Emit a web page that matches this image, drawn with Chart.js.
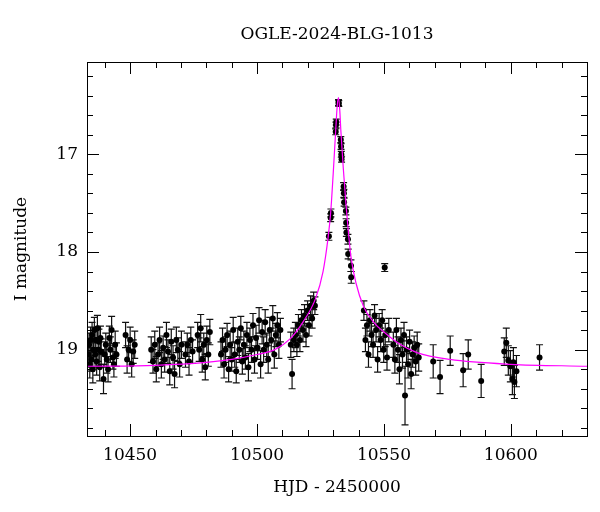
<!DOCTYPE html>
<html>
<head>
<meta charset="utf-8">
<script src="https://cdn.jsdelivr.net/npm/chart.js@4/dist/chart.umd.min.js"></script>
<style>
  body { margin: 0; background: #fff; }
  #wrap { width: 600px; height: 512px; }
</style>
</head>
<body>
<div id="wrap"><canvas id="lc"></canvas></div>
<script>
// light curve points
const hjd = [
  10433.5,10433.8,10434.1,10434.4,10434.7,10435.0,10435.3,10435.6,10435.9,10436.2,10436.5,10436.8,10437.1,10437.4,10437.7,10438.0,10438.3,10438.6,
  10439.5,10440.0,10440.4,10440.8,10441.3,10441.8,10442.2,10442.7,10443.2,10443.6,10444.1,10444.6,
  10448.2,10448.8,10449.4,10450.0,10450.6,10451.2,10451.8,
  10458.3,10459.0,10459.7,10460.3,10461.0,10461.6,10462.3,10463.0,10463.6,10464.3,10464.9,10465.6,10466.2,10466.9,10467.5,10468.2,10468.8,10469.5,10470.2,
  10471.8,10472.5,10473.2,10473.9,10474.6,
  10476.6,10477.2,10477.8,10478.4,10479.0,10479.6,10480.2,10480.8,10481.4,
  10485.8,10486.4,10487.0,10487.6,10488.2,10488.8,10489.4,10490.0,10490.6,10491.2,10491.8,10492.4,10493.0,10493.6,10494.2,10494.8,10495.4,10496.0,10496.6,10497.2,
  10497.8,10498.4,10499.0,10499.6,10500.2,10500.8,10501.4,10502.0,10502.6,10503.2,10503.8,10504.4,10505.0,10505.6,10506.2,10506.8,10507.4,10508.0,10508.6,10509.2,
  10513.3,10513.8,10514.5,10515.1,10515.7,10516.3,10516.9,10517.5,10518.1,10518.7,10519.3,10519.9,10520.5,10521.1,10521.7,10522.3,10522.8,
  10528.3,10529.0,10529.1,10531.0,10531.1,10531.2,10532.1,10532.2,10533.0,10533.1,10533.2,10533.3,10534.1,10534.2,10534.3,10535.0,10535.1,10535.2,10535.8,10535.9,10537.0,10537.1,
  10542.1,10542.7,10543.3,10543.9,10544.5,10545.1,10545.7,10546.3,10546.9,10547.5,10548.1,10548.7,10549.3,10549.9,10550.5,10551.2,10551.9,
  10550.3,
  10553.7,10554.3,10554.9,10555.5,10556.1,10556.7,10557.3,10557.9,10558.3,10558.9,10559.5,10560.1,10560.7,10561.3,10561.9,10562.5,10563.1,10563.7,
  10569.4,10572.1,10576.1,10581.2,10583.2,10588.3,10597.4,10598.2,10599.0,10599.8,10600.6,10601.0,10601.4,10602.2,10611.3
];
const mag = [
  19.05,18.95,19.15,18.90,19.10,18.85,19.20,19.00,18.80,19.05,18.90,19.12,18.78,19.00,18.92,19.18,18.88,19.02,
  19.30,19.05,18.95,19.10,19.20,18.88,19.00,18.80,19.08,19.15,18.95,19.05,
  18.85,19.10,19.00,18.90,19.15,19.02,18.95,
  19.00,19.12,18.95,19.20,19.05,18.90,19.15,18.98,19.10,18.85,19.02,19.22,18.92,19.08,19.25,18.90,19.00,19.15,18.95,
  19.05,18.95,19.12,18.90,19.02,
  18.85,19.00,18.78,19.10,18.95,19.18,18.90,19.05,18.82,
  19.05,18.90,19.15,19.00,18.85,19.20,18.95,19.10,18.80,19.05,19.22,18.92,19.00,18.78,19.12,18.95,19.08,18.85,19.18,18.90,
  19.00,18.75,19.10,18.88,18.98,18.70,19.15,18.82,19.00,18.72,18.95,19.10,18.80,18.90,18.68,19.05,18.85,18.75,18.95,18.80,
  18.95,19.25,18.90,18.85,18.95,18.75,18.90,18.70,18.80,18.65,18.85,18.60,18.75,18.55,18.68,18.50,18.55,
  17.84,17.65,17.60,16.77,16.70,16.67,16.47,16.48,16.85,16.92,17.00,17.05,17.33,17.40,17.49,17.58,17.70,17.80,17.87,18.02,18.14,18.26,
  18.60,18.90,18.75,19.05,18.70,18.85,18.95,18.65,18.80,19.10,18.75,18.90,18.70,19.00,18.85,19.08,18.80,
  18.16,
  18.95,19.10,18.80,19.00,19.20,18.90,19.05,18.85,19.47,19.00,19.15,18.92,19.25,19.05,18.98,19.12,18.95,19.08,
  19.12,19.28,19.01,19.21,19.05,19.32,19.02,18.93,19.11,19.17,19.30,19.13,19.33,19.22,19.08
];
const magErr = [
  0.13,0.12,0.14,0.13,0.12,0.13,0.14,0.12,0.13,0.13,0.12,0.14,0.13,0.12,0.13,0.14,0.12,0.13,
  0.15,0.13,0.12,0.14,0.13,0.12,0.13,0.14,0.12,0.13,0.14,0.12,
  0.13,0.14,0.12,0.13,0.13,0.12,0.14,
  0.13,0.12,0.14,0.13,0.12,0.13,0.14,0.12,0.13,0.13,0.12,0.14,0.13,0.12,0.14,0.13,0.12,0.13,0.14,
  0.13,0.12,0.14,0.13,0.12,
  0.13,0.12,0.14,0.13,0.12,0.13,0.14,0.12,0.13,
  0.13,0.12,0.14,0.13,0.12,0.13,0.14,0.12,0.13,0.13,0.12,0.14,0.13,0.12,0.13,0.14,0.12,0.13,0.14,0.12,
  0.13,0.12,0.14,0.13,0.12,0.13,0.14,0.12,0.13,0.13,0.12,0.14,0.13,0.12,0.13,0.14,0.12,0.13,0.14,0.12,
  0.13,0.15,0.12,0.13,0.12,0.11,0.12,0.11,0.12,0.11,0.12,0.10,0.11,0.10,0.10,0.09,0.09,
  0.04,0.04,0.04,0.03,0.03,0.03,0.03,0.03,0.03,0.03,0.03,0.03,0.04,0.04,0.04,0.04,0.04,0.04,0.05,0.05,0.06,0.06,
  0.10,0.12,0.11,0.13,0.11,0.12,0.13,0.11,0.12,0.13,0.12,0.12,0.11,0.13,0.12,0.13,0.12,
  0.04,
  0.13,0.14,0.12,0.13,0.15,0.12,0.14,0.13,0.30,0.13,0.14,0.12,0.15,0.13,0.12,0.14,0.13,0.14,
  0.17,0.17,0.15,0.17,0.15,0.17,0.14,0.15,0.15,0.16,0.16,0.15,0.17,0.16,0.13
];

// model curve
const modelT = [10433,10460,10480,10490,10500,10507,10513,10518,10523,10526,10528,10529,10530,10531,10531.6,10532.1,10532.6,10533,10534,10535,10536,10537,10539,10542,10546,10550,10556,10563,10576,10600,10630];
const modelMag = [19.17,19.16,19.13,19.10,19.05,19.00,18.89,18.72,18.48,18.20,17.85,17.60,17.20,16.75,16.50,16.42,16.55,16.75,17.15,17.50,17.80,18.05,18.32,18.56,18.72,18.82,18.94,19.03,19.10,19.15,19.17];

const xMajor = [10450, 10500, 10550, 10600];
const yMajor = [17, 18, 19];

const FONT = '"DejaVu Serif", "Liberation Serif", serif';

// frame, ticks on all sides, labels
const framePlugin = {
  id: 'frame',
  beforeDatasetsDraw(chart) {
    // error bars
    const ctx = chart.ctx, x = chart.scales.x, y = chart.scales.y;
    const a = chart.chartArea;
    ctx.save();
    ctx.beginPath();
    ctx.rect(a.left, a.top, a.right - a.left, a.bottom - a.top);
    ctx.clip();
    ctx.strokeStyle = '#111';
    ctx.lineWidth = 1.2;
    for (let i = 0; i < hjd.length; i++) {
      const px = x.getPixelForValue(hjd[i]);
      const y1 = y.getPixelForValue(mag[i] - magErr[i]);
      const y2 = y.getPixelForValue(mag[i] + magErr[i]);
      ctx.beginPath();
      ctx.moveTo(px, y1); ctx.lineTo(px, y2);
      ctx.moveTo(px - 3.5, y1); ctx.lineTo(px + 3.5, y1);
      ctx.moveTo(px - 3.5, y2); ctx.lineTo(px + 3.5, y2);
      ctx.stroke();
    }
    ctx.restore();
  },
  afterDraw(chart) {
    const ctx = chart.ctx, x = chart.scales.x, y = chart.scales.y;
    const a = chart.chartArea;
    ctx.save();
    ctx.strokeStyle = '#000';
    ctx.lineWidth = 1;
    ctx.strokeRect(a.left + 0.5, a.top + 0.5, a.right - a.left, a.bottom - a.top);
    ctx.beginPath();
    for (let v = 10440; v <= 10630; v += 10) {
      const px = Math.round(x.getPixelForValue(v)) + 0.5;
      const len = (v % 50 === 0) ? 12 : 6;
      ctx.moveTo(px, a.bottom); ctx.lineTo(px, a.bottom - len);
      ctx.moveTo(px, a.top); ctx.lineTo(px, a.top + len);
    }
    for (let k = 161; k <= 198; k++) {
      const v = k / 10;
      if (k % 2) continue;
      const py = Math.round(y.getPixelForValue(v)) + 0.5;
      const len = (k % 10 === 0) ? 12 : 6;
      ctx.moveTo(a.left, py); ctx.lineTo(a.left + len, py);
      ctx.moveTo(a.right, py); ctx.lineTo(a.right - len, py);
    }
    ctx.stroke();

    ctx.fillStyle = '#000';
    ctx.font = '17px ' + FONT;
    ctx.textAlign = 'center';
    ctx.textBaseline = 'middle';
    xMajor.forEach(v => ctx.fillText(String(v), x.getPixelForValue(v), 456));
    ctx.textAlign = 'right';
    yMajor.forEach(v => ctx.fillText(String(v), 78, y.getPixelForValue(v)));

    ctx.textAlign = 'center';
    ctx.fillText('HJD - 2450000', 337, 488);
    ctx.fillText('OGLE-2024-BLG-1013', 337, 35);
    ctx.translate(22, 249);
    ctx.rotate(-Math.PI / 2);
    ctx.fillText('I magnitude', 0, 0);
    ctx.restore();
  }
};

const points = hjd.map((t, i) => ({ x: t, y: mag[i] }));
const model = modelT.map((t, i) => ({ x: t, y: modelMag[i] }));

new Chart(document.getElementById('lc'), {
  type: 'scatter',
  data: {
    datasets: [
      {
        data: points,
        pointRadius: 3,
        pointBackgroundColor: '#000',
        pointBorderWidth: 0,
        order: 2
      },
      {
        data: model,
        showLine: true,
        pointRadius: 0,
        borderColor: '#ff00ff',
        borderWidth: 1.2,
        cubicInterpolationMode: 'monotone',
        order: 1
      }
    ]
  },
  options: {
    responsive: true,
    maintainAspectRatio: false,
    animation: false,
    layout: { padding: { left: 87, right: 13, top: 62, bottom: 76 } },
    plugins: { legend: { display: false }, tooltip: { enabled: false } },
    scales: {
      x: { type: 'linear', min: 10433, max: 10630, display: false },
      y: { type: 'linear', min: 16.055, max: 19.884, reverse: true, display: false }
    }
  },
  plugins: [framePlugin]
});
</script>
</body>
</html>
